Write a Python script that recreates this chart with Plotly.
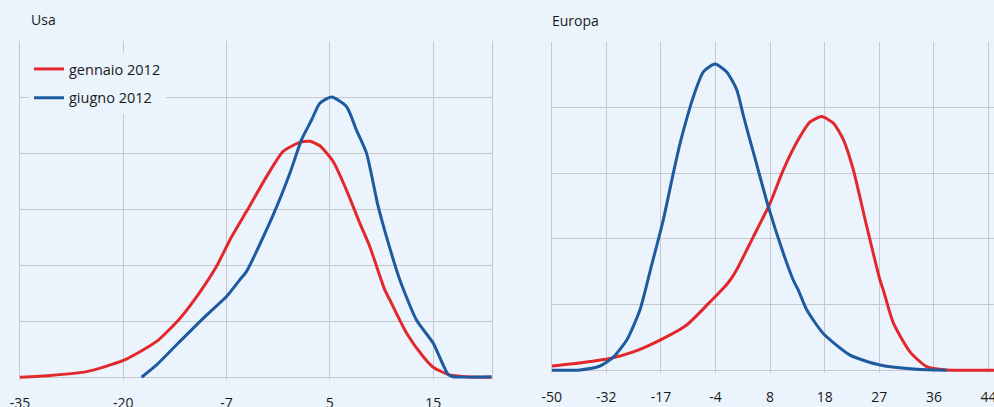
import plotly.graph_objects as go

# ---------------- data ----------------
# Usa panel: x is the category position (tick labels every 10 positions)
usa_tick_pos = [0, 10, 20, 30, 40]
usa_tick_labels = ["-35", "-20", "-7", "5", "15"]

usa_gen_x = [0, 2.9, 6.45, 10.0, 13.23, 15.48, 17.42, 19.03, 20.32, 21.94, 23.87, 25.48,
             27.1, 28.06, 29.03, 30.32, 31.61, 32.9, 33.87, 35.32, 35.81, 37.42, 39.03,
             40.0, 41.6, 43.23, 45.65]
usa_gen_y = [0, 0.03, 0.10, 0.30, 0.64, 1.05, 1.52, 1.98, 2.45, 2.96, 3.58, 4.03,
             4.19, 4.21, 4.13, 3.85, 3.34, 2.75, 2.33, 1.56, 1.38, 0.79, 0.37,
             0.18, 0.04, 0.01, 0]

usa_giu_x = [11.77, 13.23, 15.16, 18.06, 20.0, 21.29, 21.94, 24.45, 26.13, 27.26, 28.23,
             29.03, 30.16, 31.61, 32.58, 33.55, 34.65, 35.48, 36.77, 38.39, 40.0, 41.45,
             41.94, 45.65]
usa_giu_y = [0, 0.22, 0.58, 1.11, 1.44, 1.74, 1.89, 2.87, 3.64, 4.24, 4.59,
             4.89, 5.0, 4.83, 4.41, 4.0, 3.07, 2.51, 1.74, 1.02, 0.61, 0.05,
             0.01, 0.01]

# Europa panel
eu_tick_pos = [0, 10, 20, 30, 40, 50, 60, 70, 80]
eu_tick_labels = ["-50", "-32", "-17", "-4", "8", "18", "27", "36", "44"]

eu_gen_x = [0, 5.79, 10.68, 14.95, 19.84, 24.73, 29.0, 31.14, 32.66, 33.88, 36.92, 39.98,
            42.42, 45.16, 47.31, 49.45, 51.58, 53.41, 55.24, 57.69, 60.13, 60.73, 62.56,
            65.62, 68.68, 72.34, 81.0]
eu_gen_y = [0.065, 0.12, 0.18, 0.28, 0.46, 0.69, 1.04, 1.22, 1.37, 1.53, 2.03, 2.54,
            3.05, 3.51, 3.78, 3.86, 3.76, 3.51, 3.05, 2.19, 1.37, 1.22, 0.72,
            0.28, 0.055, 0.005, 0]

eu_giu_x = [0, 5.18, 8.84, 11.28, 13.74, 16.17, 18.3, 20.44, 22.27, 23.5, 24.73,
            25.93, 27.77, 29.91, 32.05, 33.88, 35.09, 36.32, 37.55, 39.67, 42.42, 44.25,
            45.16, 46.7, 49.74, 54.63, 60.13, 66.85, 72.34]
eu_giu_y = [0, 0.005, 0.065, 0.20, 0.46, 0.92, 1.6, 2.29, 3.0, 3.45, 3.83,
            4.16, 4.54, 4.66, 4.54, 4.27, 3.88, 3.5, 3.13, 2.49, 1.78, 1.37,
            1.22, 0.92, 0.56, 0.23, 0.08, 0.015, 0]

series_names = ["gennaio 2012", "giugno 2012"]
RED = "#E2282C"
BLUE = "#1D5A9F"
BG = "#EBF4FC"
GRID = "#C5C8CD"
FONT = "Open Sans"

# ---------------- figure ----------------
fig = go.Figure()
fig.add_trace(go.Scatter(x=usa_gen_x, y=usa_gen_y, mode="lines", name=series_names[0],
                         line=dict(color=RED, width=3, shape="spline", smoothing=0.6),
                         xaxis="x", yaxis="y", legendgroup="a"))
fig.add_trace(go.Scatter(x=usa_giu_x, y=usa_giu_y, mode="lines", name=series_names[1],
                         line=dict(color=BLUE, width=3, shape="spline", smoothing=0.6),
                         xaxis="x", yaxis="y", legendgroup="b"))
fig.add_trace(go.Scatter(x=eu_gen_x, y=eu_gen_y, mode="lines", name=series_names[0],
                         line=dict(color=RED, width=3, shape="spline", smoothing=0.6),
                         xaxis="x2", yaxis="y2", showlegend=False, legendgroup="a"))
fig.add_trace(go.Scatter(x=eu_giu_x, y=eu_giu_y, mode="lines", name=series_names[1],
                         line=dict(color=BLUE, width=3, shape="spline", smoothing=0.6),
                         xaxis="x2", yaxis="y2", showlegend=False, legendgroup="b"))

W, H = 994, 407
def px_x(p):
    return p / W
def px_y(p):
    return (H - p) / H

xcommon = dict(showline=False, zeroline=False, showgrid=True, gridcolor=GRID, gridwidth=1,
               ticks="outside", ticklen=11, tickcolor="rgba(0,0,0,0)", automargin=False,
               ticklabeloverflow="allow",
               tickfont=dict(family=FONT, size=14, color="#1a1a1a"), tickmode="array")
ycommon = dict(showline=True, linecolor=GRID, linewidth=1, zeroline=True, zerolinecolor=GRID,
               zerolinewidth=1, showgrid=True, gridcolor=GRID, gridwidth=1, automargin=False,
               showticklabels=False, ticks="", dtick=1, tick0=0)

fig.update_layout(
    template="none",
    width=W, height=H, autosize=False,
    margin=dict(l=0, r=0, t=0, b=0, pad=0, autoexpand=False),
    paper_bgcolor=BG, plot_bgcolor=BG,
    showlegend=True,
    legend=dict(x=px_x(29), y=px_y(53), xanchor="left", yanchor="top",
                bgcolor=BG, borderwidth=0, tracegroupgap=7,
                font=dict(family=FONT, size=14.5, color="#1a1a1a"),
                traceorder="grouped"),
    xaxis=dict(domain=[px_x(20), px_x(492)], range=[0, 45.7], anchor="y",
               tickvals=usa_tick_pos, ticktext=usa_tick_labels, **xcommon),
    yaxis=dict(domain=[px_y(379.5), px_y(41)], range=[-0.04, 6], anchor="x",
               mirror=True, **ycommon),
    xaxis2=dict(domain=[px_x(551.7), 1], range=[0, 81.0], anchor="y2",
                tickvals=eu_tick_pos, ticktext=eu_tick_labels, **xcommon),
    yaxis2=dict(domain=[px_y(372.9), px_y(41.7)], range=[-0.04, 5], anchor="x2",
                mirror=False, **ycommon),
    annotations=[
        dict(text="Usa", x=px_x(29), y=px_y(19.5), xref="paper", yref="paper",
             xanchor="left", yanchor="middle", showarrow=False,
             font=dict(family=FONT, size=14, color="#1a1a1a")),
        dict(text="Europa", x=px_x(550), y=px_y(20.5), xref="paper", yref="paper",
             xanchor="left", yanchor="middle", showarrow=False,
             font=dict(family=FONT, size=14, color="#1a1a1a")),
    ],
)

fig.write_html("out.html", config={"responsive": False, "displayModeBar": False},
               post_script="document.body.style.margin='0';document.body.style.overflow='hidden';")
